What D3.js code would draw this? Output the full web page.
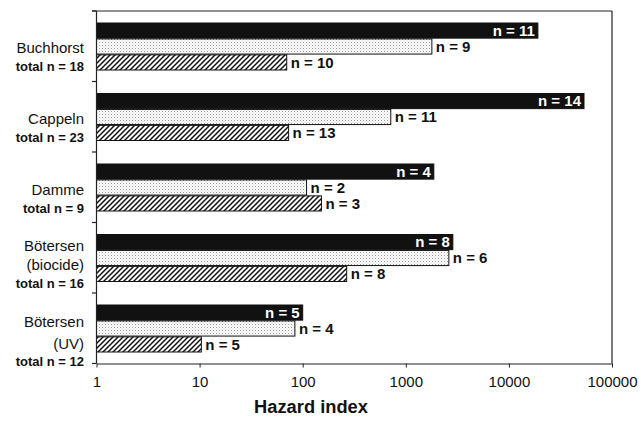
<!DOCTYPE html>
<html><head><meta charset="utf-8">
<script src="https://cdn.jsdelivr.net/npm/d3@7"></script>
<style>body{margin:0;background:#fff}svg{display:block}text{font-family:"Liberation Sans",Arial,Helvetica,sans-serif}</style>
</head><body><svg id="c" width="641" height="421"></svg>
<script>
const categories = ["Buchhorst", "Cappeln", "Damme", "Bötersen (biocide)", "Bötersen (UV)"];
const labelLines = [["Buchhorst"], ["Cappeln"], ["Damme"], ["Bötersen", "(biocide)"], ["Bötersen", "(UV)"]];
const totalN = [18, 23, 9, 16, 12];
const seriesNames = ["solid", "dotted", "hatched"];
const solidValues = [19100, 53500, 1870, 2860, 100];
const dottedValues = [1790, 715, 109, 2615, 84];
const hatchedValues = [70, 73, 152, 267, 10.4];
const solidN = [11, 14, 4, 8, 5];
const dottedN = [9, 11, 2, 6, 4];
const hatchedN = [10, 13, 3, 8, 5];
const xTicks = [1, 10, 100, 1000, 10000, 100000];

const svg = d3.select("#c");
const L = 96.5, R = 612, T = 11, B = 363.5;

const defs = svg.append("defs");
const dots = defs.append("pattern").attr("id", "dots").attr("patternUnits", "userSpaceOnUse")
  .attr("width", 3).attr("height", 3);
dots.append("rect").attr("width", 3).attr("height", 3).attr("fill", "#fff");
dots.append("rect").attr("x", 0).attr("y", 0).attr("width", 1).attr("height", 1).attr("fill", "#9a9a9a");
dots.append("rect").attr("x", 1.5).attr("y", 1.5).attr("width", 1).attr("height", 1).attr("fill", "#c8c8c8");
const hatch = defs.append("pattern").attr("id", "hatch").attr("patternUnits", "userSpaceOnUse")
  .attr("width", 5).attr("height", 5);
hatch.append("rect").attr("width", 5).attr("height", 5).attr("fill", "#fff");
hatch.append("path").attr("d", "M-1,1 L1,-1 M0,5 L5,0 M4,6 L6,4").attr("stroke", "#111").attr("stroke-width", 1.5);

const x = d3.scaleLog().domain([1, 100000]).range([L, R]);
const y = d3.scaleBand().domain(categories).range([T, B]).paddingInner(0).paddingOuter(0);
const ySub = d3.scaleBand().domain(seriesNames).range([12, 59]).paddingInner(0.05);

const series = [
  {name: "solid", values: solidValues, ns: solidN, fill: "#111", stroke: "#111"},
  {name: "dotted", values: dottedValues, ns: dottedN, fill: "url(#dots)", stroke: "#111"},
  {name: "hatched", values: hatchedValues, ns: hatchedN, fill: "url(#hatch)", stroke: "#111"}
];

// frame
svg.append("line").attr("x1", 92).attr("x2", R).attr("y1", T).attr("y2", T).attr("stroke", "#222").attr("stroke-width", 1.2);
svg.append("line").attr("x1", R).attr("x2", R).attr("y1", T).attr("y2", B).attr("stroke", "#222").attr("stroke-width", 1.2);

// bars
series.forEach(s => {
  const g = svg.append("g");
  categories.forEach((c, i) => {
    const y0 = y(c) + ySub(s.name);
    const h = ySub.bandwidth();
    const xe = x(s.values[i]);
    g.append("rect").attr("x", L).attr("y", y0).attr("width", xe - L).attr("height", h)
      .attr("fill", s.fill).attr("stroke", s.stroke).attr("stroke-width", 1);
    const t = g.append("text").attr("y", y0 + h / 2 + 5.3).attr("font-size", 15).attr("font-weight", "bold")
      .text("n = " + s.ns[i]);
    if (s.name === "solid") {
      t.attr("x", xe - 3).attr("text-anchor", "end").attr("fill", "#fff");
    } else {
      t.attr("x", xe + 4).attr("text-anchor", "start").attr("fill", "#111");
    }
  });
});

// x axis
const xAxis = svg.append("g").attr("transform", `translate(0,${B})`)
  .call(d3.axisBottom(x).tickValues(xTicks).tickFormat(d3.format("d")).tickSize(4).tickSizeOuter(0));
xAxis.select(".domain").attr("stroke", "#222").attr("stroke-width", 1.2);
xAxis.selectAll(".tick line").attr("stroke", "#222");
xAxis.selectAll(".tick text").attr("font-size", 15).attr("fill", "#111").attr("dy", 0).attr("y", 23)
  .attr("font-family", '"Liberation Sans",Arial,sans-serif');

// y axis with ticks at band boundaries
svg.append("line").attr("x1", L).attr("x2", L).attr("y1", T).attr("y2", B).attr("stroke", "#222").attr("stroke-width", 1.2);
const bounds = categories.map(c => y(c)).concat([B]);
svg.append("g").selectAll("line").data(bounds).join("line")
  .attr("x1", L - 4.5).attr("x2", L).attr("y1", d => d).attr("y2", d => d).attr("stroke", "#222").attr("stroke-width", 1.2);

// category labels
const offs = [[7], [7], [7.5], [-6.5, 12.5], [-1, 20.5]];
categories.forEach((c, i) => {
  const cy = y(c) + y.bandwidth() / 2;
  const lines = labelLines[i];
  lines.forEach((ln, j) => {
    svg.append("text").attr("x", 84).attr("y", cy + offs[i][j]).attr("text-anchor", "end")
      .attr("font-size", 15).attr("fill", "#111").text(ln);
  });
  const last = offs[i][lines.length - 1];
  svg.append("text").attr("x", 84).attr("y", cy + last + (lines.length > 1 ? 17.5 : 18))
    .attr("text-anchor", "end").attr("font-size", 13).attr("font-weight", "bold").attr("fill", "#111")
    .text("total n = " + totalN[i]);
});

svg.append("text").attr("x", 311).attr("y", 413).attr("text-anchor", "middle")
  .attr("font-size", 18.3).attr("font-weight", "bold").attr("fill", "#111").text("Hazard index");
</script></body></html>
